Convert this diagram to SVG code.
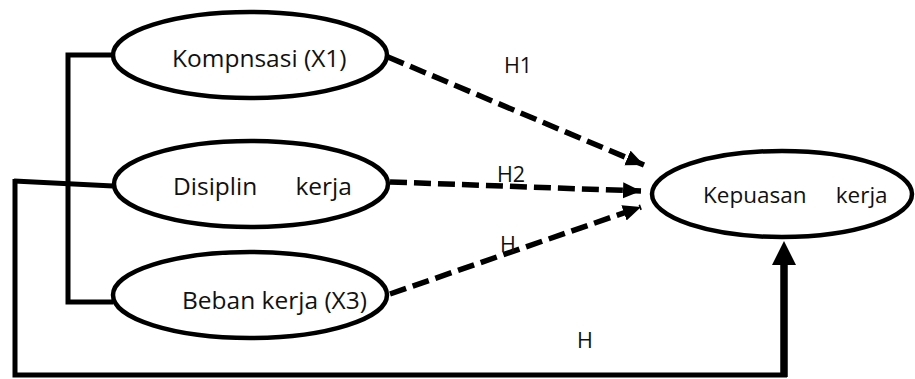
<svg xmlns="http://www.w3.org/2000/svg" width="915" height="379" viewBox="0 0 915 379">
<style>
  .node ellipse { fill: #fff; stroke: #000; stroke-width: 4.5; }
  .node text { font-family: "Open Sans", "Noto Sans", sans-serif; font-size: 24.5px; fill: #111; }
  .lbl { font-family: "Open Sans", "Noto Sans", sans-serif; font-size: 21.5px; fill: #111; }
  .solid { fill: none; stroke: #000; stroke-width: 5; }
  .dash { fill: none; stroke: #000; stroke-width: 5.5; stroke-dasharray: 17 7; marker-end: url(#ah); }
</style>
<defs>
  <marker id="ah" markerUnits="userSpaceOnUse" markerWidth="20" markerHeight="18" refX="18" refY="8" orient="auto">
    <path d="M0,0 L18,8 L0,16 Z" fill="#000"/>
  </marker>
</defs>
<g id="connectors">
  <path class="solid" d="M113,55 H68 V302 H113"/>
  <path class="solid" d="M14,181 L113,186"/>
  <path class="solid" d="M15,179 V375 H787"/>
  <path d="M784,377 V262" fill="none" stroke="#000" stroke-width="7.5"/>
  <path d="M784,241 L796,265 L772,265 Z" fill="#000"/>
  <path class="dash" d="M388,57 L644,165"/>
  <path class="dash" d="M390,182 L641,191"/>
  <path class="dash" d="M390,294 L641,207"/>
  <text class="lbl" x="504" y="73">H1</text>
  <text class="lbl" x="497" y="182">H2</text>
  <text class="lbl" x="500" y="252">H</text>
  <text class="lbl" x="577" y="348">H</text>
</g>
<g id="n1" class="node">
  <ellipse cx="250" cy="55" rx="137" ry="43"/>
  <text x="172" y="67">Kompnsasi (X1)</text>
</g>
<g id="n2" class="node">
  <ellipse cx="251" cy="184" rx="137" ry="43"/>
  <text x="173" y="195" xml:space="preserve">Disiplin      kerja</text>
</g>
<g id="n3" class="node">
  <ellipse cx="250" cy="295" rx="137" ry="43"/>
  <text x="182" y="309">Beban kerja (X3)</text>
</g>
<g id="n4" class="node">
  <ellipse cx="782" cy="194" rx="130" ry="43"/>
  <text x="703" y="203" xml:space="preserve" style="font-size:22.5px">Kepuasan     kerja</text>
</g>
</svg>
